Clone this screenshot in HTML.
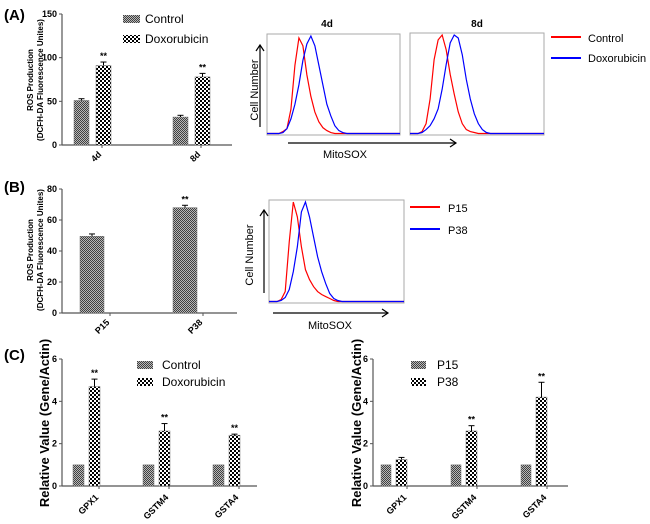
<!DOCTYPE html>
<html><head><meta charset="utf-8"><style>
body{margin:0;background:#fff}
svg{display:block;font-family:"Liberation Sans",Arial,sans-serif}
</style></head><body>
<svg id="fig" width="650" height="524" viewBox="0 0 650 524">
<defs>
<pattern id="pCtl" width="2" height="2" patternUnits="userSpaceOnUse"><rect width="2" height="2" fill="#b8b8b8"/><rect width="1" height="1" fill="#404040"/><rect x="1" y="1" width="1" height="1" fill="#404040"/></pattern>
<pattern id="pDox" width="4" height="4" patternUnits="userSpaceOnUse"><rect width="4" height="4" fill="#fff"/><rect width="2" height="2" fill="#000"/><rect x="2" y="2" width="2" height="2" fill="#000"/></pattern>
</defs>
<g id="root"></g>
</svg>
<script>
// ---- data ----
const catsA = ["4d","8d"];
const ctlA = [51, 32], ctlAErr = [2, 2];
const doxA = [91, 78], doxAErr = [4, 4];
const ticksA = [0,50,100,150];
const catsB = ["P15","P38"];
const valB = [49.5, 68], errB = [1.5, 1.5];
const ticksB = [0,20,40,60,80];
const catsC = ["GPX1","GSTM4","GSTA4"];
const ctlC = [1,1,1], ctlCErr=[0,0,0];
const doxC = [4.7, 2.6, 2.4], doxCErr = [0.35, 0.35, 0.05];
const p15C = [1,1,1], p15CErr=[0,0,0];
const p38C = [1.25, 2.6, 4.2], p38CErr = [0.1, 0.25, 0.7];
const p38Sig = [false, true, true];
const ticksC = [0,2,4,6];
const red4d = [0,0,0,0,0.02,0.05,0.25,0.7,0.98,0.9,0.6,0.38,0.22,0.12,0.06,0.03,0.01,0,0,0,0];
const blue4d = [0,0,0,0,0.01,0.05,0.15,0.3,0.5,0.75,0.92,1.0,0.9,0.7,0.5,0.3,0.18,0.08,0.03,0.01,0];
const red8d = [0,0,0,0.02,0.1,0.35,0.75,0.95,1.0,0.85,0.6,0.4,0.22,0.1,0.04,0.02,0.01,0,0,0,0];
const blue8d = [0,0,0,0.01,0.04,0.08,0.15,0.25,0.45,0.7,0.92,1.0,0.97,0.8,0.55,0.35,0.2,0.1,0.04,0.01,0];
const redB = [0,0,0,0.02,0.1,0.6,1.0,0.85,0.55,0.32,0.22,0.15,0.1,0.07,0.05,0.03,0.01,0,0,0,0];
const blueB = [0,0,0,0.01,0.04,0.12,0.3,0.55,0.9,1.0,0.85,0.65,0.45,0.3,0.18,0.08,0.03,0.01,0,0,0];

const NS="http://www.w3.org/2000/svg";
const root=document.getElementById('root');
function mk(tag,attrs,parent,text){const e=document.createElementNS(NS,tag);for(const k in attrs)e.setAttribute(k,attrs[k]);if(text!==undefined)e.textContent=text;(parent||root).appendChild(e);return e;}
function txt(x,y,s,size,opts,name){opts=opts||{};const t=mk('text',Object.assign({x:x,y:y,'font-size':size,'font-weight':opts.w||'bold','text-anchor':opts.a||'start',fill:'#000'},opts.rot?{transform:`rotate(${opts.rot} ${x} ${y})`}:{}),root,s);


return t;}
function line(x1,y1,x2,y2,w,c){return mk('line',{x1,y1,x2,y2,stroke:c||'#000','stroke-width':w||1});}

function barChart(cfg){
  const y=v=>cfg.y0-(v/cfg.max)*(cfg.y0-cfg.yTop);
  const ax=line(cfg.x0,cfg.yTop,cfg.x0,cfg.y0,1.2,'#555');
  
  
  const xa=line(cfg.x0,cfg.y0,cfg.xEnd,cfg.y0,1.2,'#555');
  
  
  cfg.ticks.forEach(t=>{line(cfg.x0-3,y(t),cfg.x0,y(t),1,'#555');txt(cfg.x0-5,y(t)+3,String(t),cfg.tickSize,{a:'end'},'y-tick-label');});
  cfg.series.forEach(s=>{
    s.vals.forEach((v,i)=>{
      const bx=cfg.catX(i)+s.off;
      const r=mk('rect',{x:bx,y:y(v),width:s.w,height:cfg.y0-y(v),fill:`url(#${s.pat})`,stroke:'#777','stroke-width':0.5});
      
      
      if(s.err[i]>0){const cx=bx+s.w/2;line(cx,y(v),cx,y(v+s.err[i]),1);line(cx-3,y(v+s.err[i]),cx+3,y(v+s.err[i]),1);}
      if(s.star && (!s.sig || s.sig[i])){txt(bx+s.w/2,y(v+s.err[i])-3,'**',cfg.tickSize,{a:'middle'},'significance-mark');}
    });
  });
  cfg.cats.forEach((c,i)=>{const tx=cfg.catX(i)+cfg.labOff;line(tx,cfg.y0,tx,cfg.y0+3,1,'#555');txt(tx,cfg.y0+cfg.labDy,c,cfg.tickSize,{a:'end',rot:-45},'x-tick-label');});
}
txt(4,20,'(A)',15,{},'panel-label-a');
barChart({name:'ros-a',x0:62,xEnd:232,y0:145,yTop:14,max:150,ticks:ticksA,tickSize:9,cats:catsA,catX:i=>[74,173][i],labOff:28,labDy:10,
  series:[{key:'control',vals:ctlA,err:ctlAErr,pat:'pCtl',off:0,w:15},{key:'doxorubicin',vals:doxA,err:doxAErr,pat:'pDox',off:22,w:15,star:true}]});
txt(33,80,'ROS Production',8,{a:'middle',rot:-90},'y-axis-title-a');
txt(43,80,'(DCFH-DA Fluorescence Unites)',8,{a:'middle',rot:-90},'y-axis-title-a2');
mk('rect',{x:123,y:15,width:17,height:8,fill:'url(#pCtl)'});
mk('rect',{x:123,y:35,width:17,height:8,fill:'url(#pDox)'});
txt(145,23,'Control',12,{w:'normal'},'legend-control');
txt(145,43,'Doxorubicin',12,{w:'normal'},'legend-doxorubicin');

txt(4,192,'(B)',15,{},'panel-label-b');
barChart({name:'ros-b',x0:62,xEnd:237,y0:313,yTop:189,max:80,ticks:ticksB,tickSize:9,cats:catsB,catX:i=>[80,173][i],labOff:30,labDy:10,
  series:[{key:'passage',vals:valB,err:errB,pat:'pCtl',off:0,w:24,star:true,sig:[false,true]}]});
txt(33,250,'ROS Production',8,{a:'middle',rot:-90},'y-axis-title-b');
txt(43,250,'(DCFH-DA Fluorescence Unites)',8,{a:'middle',rot:-90},'y-axis-title-b2');

txt(4,360,'(C)',15,{},'panel-label-c');
barChart({name:'gene-c-left',x0:62,xEnd:257,y0:486,yTop:359,max:6,ticks:ticksC,tickSize:9,cats:catsC,catX:i=>[73,143,213][i],labOff:26,labDy:12,
  series:[{key:'control',vals:ctlC,err:ctlCErr,pat:'pCtl',off:0,w:11},{key:'doxorubicin',vals:doxC,err:doxCErr,pat:'pDox',off:16,w:11,star:true}]});
txt(49,423,'Relative Value (Gene/Actin)',13,{a:'middle',rot:-90},'y-axis-title-c-left');
mk('rect',{x:137,y:361,width:16,height:8,fill:'url(#pCtl)'});
mk('rect',{x:137,y:378,width:16,height:8,fill:'url(#pDox)'});
txt(162,369,'Control',12,{w:'normal'},'legend-control-c');
txt(162,386,'Doxorubicin',12,{w:'normal'},'legend-doxorubicin-c');
barChart({name:'gene-c-right',x0:373,xEnd:568,y0:486,yTop:359,max:6,ticks:ticksC,tickSize:9,cats:catsC,catX:i=>[381,451,521][i],labOff:26,labDy:12,
  series:[{key:'p15',vals:p15C,err:p15CErr,pat:'pCtl',off:0,w:10},{key:'p38',vals:p38C,err:p38CErr,pat:'pDox',off:15,w:11,star:true,sig:p38Sig}]});
txt(361,423,'Relative Value (Gene/Actin)',13,{a:'middle',rot:-90},'y-axis-title-c-right');
mk('rect',{x:411,y:361,width:15,height:8,fill:'url(#pCtl)'});
mk('rect',{x:411,y:378,width:15,height:8,fill:'url(#pDox)'});
txt(437,369,'P15',12,{w:'normal'},'legend-p15');
txt(437,386,'P38',12,{w:'normal'},'legend-p38');

function histo(bx,by,bw,bh,sets,name){
  const b=mk('rect',{x:bx,y:by,width:bw,height:bh,fill:'none',stroke:'#aaa','stroke-width':1});
  
  
  const base=by+bh-1.5, top=by+2;
  const xs=i=>bx+(i*3/100)*bw;
  sets.forEach(s=>{
    let d=`M${bx} ${base}`;
    s.vals.forEach((v,i)=>{d+=` L${xs(i)} ${base-v*(base-top)}`;});
    d+=` L${bx+bw} ${base}`;
    const p=mk('path',{d:d,fill:'none',stroke:s.c,'stroke-width':1.2});
    
    
  });
}
function arrows(x,yb,yt,x1,x2,y){
  line(x,yb,x,yt,1.2);mk('path',{d:`M${x-4} ${yt+6} L${x} ${yt} L${x+4} ${yt+6}`,fill:'none',stroke:'#000','stroke-width':1.2});
  line(x1,y,x2,y,1.2);mk('path',{d:`M${x2-6} ${y-4} L${x2} ${y} L${x2-6} ${y+4}`,fill:'none',stroke:'#000','stroke-width':1.2});
}
histo(267,34,133,101,[{key:'control',vals:red4d,c:'#f00'},{key:'doxorubicin',vals:blue4d,c:'#00f'}],'histogram-4d');
histo(410,33,134,102,[{key:'control',vals:red8d,c:'#f00'},{key:'doxorubicin',vals:blue8d,c:'#00f'}],'histogram-8d');
txt(327,27,'4d',10,{a:'middle'},'title-4d');
txt(477,27,'8d',10,{a:'middle'},'title-8d');
arrows(260,127,45,288,456,143);
txt(258,90,'Cell Number',11,{a:'middle',w:'normal',rot:-90},'y-title-cell-number-a');
txt(345,158,'MitoSOX',11,{a:'middle',w:'normal'},'x-title-mitosox-a');
line(551,37,581,37,2,'#f00');line(551,58,581,58,2,'#00f');
txt(588,42,'Control',11,{w:'normal'},'legend-flow-control');
txt(588,62,'Doxorubicin',11,{w:'normal'},'legend-flow-doxorubicin');

histo(269,200,135,103,[{key:'p15',vals:redB,c:'#f00'},{key:'p38',vals:blueB,c:'#00f'}],'histogram-b');
arrows(264,293,210,273,388,313);
txt(253,255,'Cell Number',11,{a:'middle',w:'normal',rot:-90},'y-title-cell-number-b');
txt(330,329,'MitoSOX',11,{a:'middle',w:'normal'},'x-title-mitosox-b');
line(410,207,440,207,2,'#f00');line(410,229,440,229,2,'#00f');
txt(448,212,'P15',11,{w:'normal'},'legend-flow-p15');
txt(448,234,'P38',11,{w:'normal'},'legend-flow-p38');
</script>
</body></html>
